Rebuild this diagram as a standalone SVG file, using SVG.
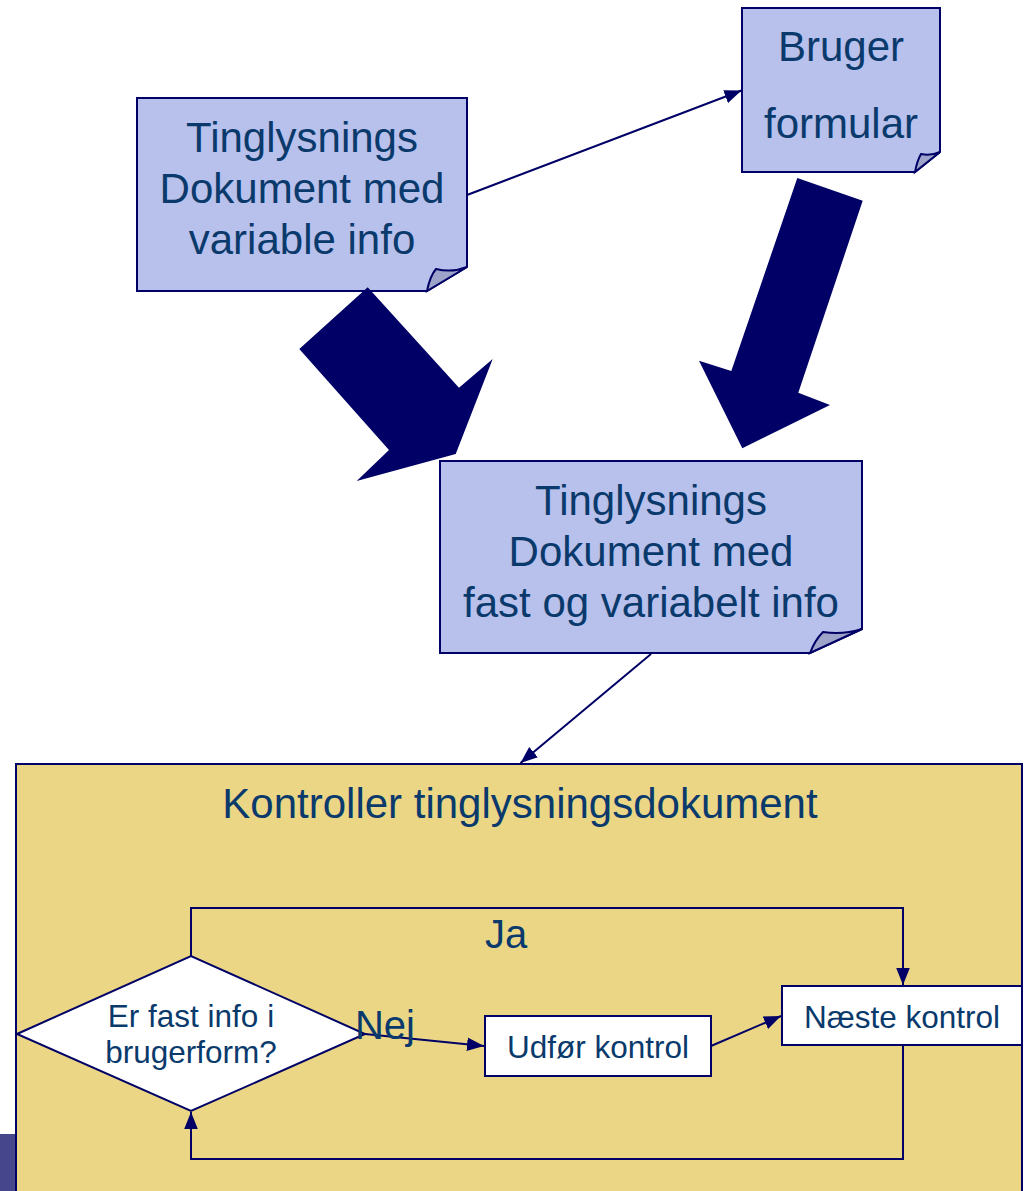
<svg xmlns="http://www.w3.org/2000/svg" width="1025" height="1191" viewBox="0 0 1025 1191">
<style>
.note{fill:#B8C0EC;stroke:#000066;stroke-width:2;stroke-linejoin:miter}
.fold{fill:#9EA4C9;stroke:#000066;stroke-width:2}
.big{fill:#000066;stroke:none}
.box{fill:#FFFFFF;stroke:#000066;stroke-width:2}
.t{font-family:"Liberation Sans",Arial,sans-serif;fill:#0A3A6C;text-anchor:middle}
.t42{font-size:42px}
.t30{font-size:31.5px}
.t38{font-size:40px}
.ln{fill:none;stroke:#000066;stroke-width:2}
</style>
<defs>
<marker id="ah2" viewBox="0 0 10 10" refX="10" refY="5" markerWidth="17" markerHeight="17" markerUnits="userSpaceOnUse" orient="auto">
<path d="M0,1 L10,5 L0,9 z" fill="#000066"/>
</marker>
</defs>
<rect width="1025" height="1191" fill="#FFFFFF"/>
<rect x="0" y="1134" width="16" height="57" fill="#46468C"/>

<g id="container">
<rect x="16" y="764" width="1006" height="440" fill="#EAD684" stroke="#000066" stroke-width="2"/>
<text class="t t42" x="520" y="818">Kontroller tinglysningsdokument</text>
</g>

<g id="note1">
<path class="note" d="M137,98 H467 V267 L427,291 H137 Z"/>
<path class="fold" d="M427,291 Q430,276 436,269 Q452,273 467,267 Z"/>
<text class="t t42" x="302" y="152">Tinglysnings</text>
<text class="t t42" x="302" y="203">Dokument med</text>
<text class="t t42" x="302" y="254">variable info</text>
</g>

<g id="note2">
<path class="note" d="M742,8 H940 V152 L915,172 H742 Z"/>
<path class="fold" d="M915,172 Q917,161 921,154 Q931,156 940,152 Z"/>
<text class="t t42" x="841" y="61">Bruger</text>
<text class="t t42" x="841" y="138">formular</text>
</g>

<g id="note3">
<path class="note" d="M440,461 H862 V629 L810,653 H440 Z"/>
<path class="fold" d="M810,653 Q815,640 823,632 Q843,635 862,629 Z"/>
<text class="t t42" x="651" y="515">Tinglysnings</text>
<text class="t t42" x="651" y="566">Dokument med</text>
<text class="t t42" x="651" y="617">fast og variabelt info</text>
</g>

<g id="bigarrow1">
<polygon class="big" points="367.7,287.3 459,387.7 492.7,359 455.7,454 356.7,481 389,450 299.3,349"/>
</g>
<g id="bigarrow2">
<polygon class="big" points="797.3,178 862.7,200.7 798.3,392.7 830,405 742.3,448.3 699,360.7 731.3,371"/>
</g>

<g id="decision">
<polygon class="box" points="17,1034 191,956 365,1034 191,1111"/>
<text class="t t30" x="191" y="1027">Er fast info i</text>
<text class="t t30" x="191" y="1063">brugerform?</text>
</g>

<g id="udfor">
<rect class="box" x="485" y="1016" width="226" height="60"/>
<text class="t t30" x="598" y="1058">Udfør kontrol</text>
</g>

<g id="naeste">
<rect class="box" x="782" y="986" width="240" height="59"/>
<text class="t t30" x="902" y="1028">Næste kontrol</text>
</g>

<g id="connectors">
<line class="ln" x1="467" y1="195" x2="741.5" y2="90.5" marker-end="url(#ah2)"/>
<line class="ln" x1="651" y1="654" x2="520.5" y2="763" marker-end="url(#ah2)"/>
<line class="ln" x1="365" y1="1034" x2="484" y2="1046" marker-end="url(#ah2)"/>
<line class="ln" x1="711" y1="1046" x2="781" y2="1016" marker-end="url(#ah2)"/>
<path class="ln" d="M191,956 V908 H903 V985" marker-end="url(#ah2)"/>
<path class="ln" d="M903,1045 V1159 H191 V1112" marker-end="url(#ah2)"/>
</g>

<g id="labels">
<text class="t t38" x="506" y="948">Ja</text>
<text class="t t38" x="385" y="1039">Nej</text>
</g>
</svg>
